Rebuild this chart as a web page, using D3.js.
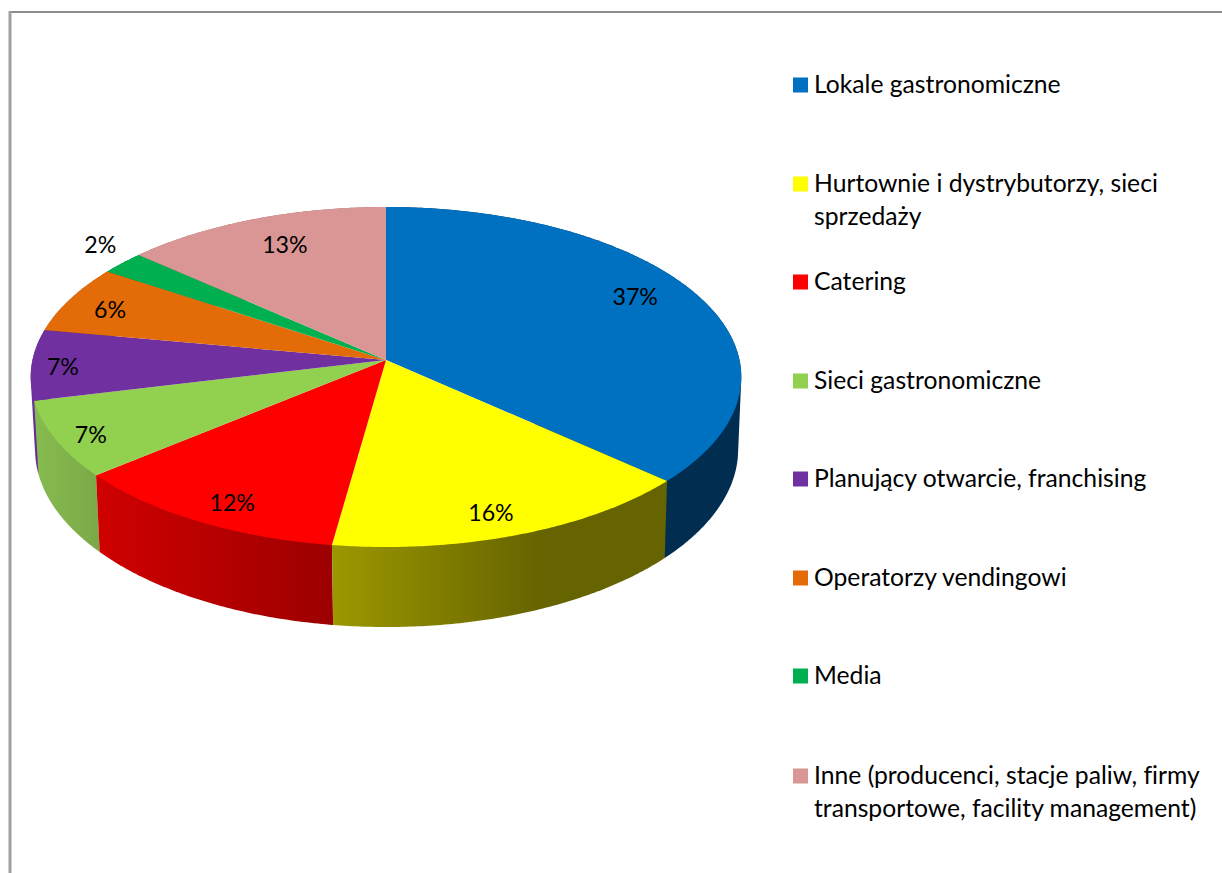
<!DOCTYPE html>
<html><head><meta charset="utf-8">
<script src="https://cdn.jsdelivr.net/npm/d3@7"></script>
<style>html,body{margin:0;padding:0;background:#fff}svg{display:block}text{font-family:Lato,"Open Sans",sans-serif;fill:#000;font-variant-ligatures:none}</style>
</head><body><svg id="c" width="1222" height="873"></svg>
<script>
const categories = ["Lokale gastronomiczne","Hurtownie i dystrybutorzy, sieci sprzedaży","Catering","Sieci gastronomiczne","Planujący otwarcie, franchising","Operatorzy vendingowi","Media","Inne (producenci, stacje paliw, firmy transportowe, facility management)"];
const legendLines = [["Lokale gastronomiczne"],["Hurtownie i dystrybutorzy, sieci","sprzedaży"],["Catering"],["Sieci gastronomiczne"],["Planujący otwarcie, franchising"],["Operatorzy vendingowi"],["Media"],["Inne (producenci, stacje paliw, firmy","transportowe, facility management)"]];
const values = [36.7,15.5,11.73,7.27,6.7,6.45,2.25,13.4];
const topColors = ["#0070C0","#FFFF00","#FF0000","#92D050","#7030A0","#E36C09","#00B050","#D99694"];
const sideStart = ["#002D50","#9C9800","#D00000","#86BC50","#6A2E98","#A04C06","#007A3A","#A06C6A"];
const sideEnd   = ["#002D50","#666400","#9C0000","#7CA848","#6A2E98","#A04C06","#007A3A","#A06C6A"];
// label placement relative to each slice: [angle nudge in degrees, radius fraction]
const labelNudge = [[-4,.829],[1.9,.877],[-1.93,.88],[-1.33,.906],[-1,.911],[-1.2,.861],[2.5,1.136],[1.4,.795]];
const legendRowY = [85,184,282,381,479,578,676,776];

const cx=386, cy=360, a=168.3, b=353.5, k=0.1;
const labelFont=23.2, legendFont=24.7;
const svg=d3.select("#c");
const defs=svg.append("defs");

// chart frame
const frame=svg.append("g").attr("fill","none").attr("stroke","#8c8c8c");
frame.append("line").attr("x1",9).attr("x2",1222).attr("y1",12).attr("y2",12).attr("stroke-width",2);
frame.append("line").attr("x1",10).attr("x2",10).attr("y1",11).attr("y2",873).attr("stroke-width",3).attr("stroke","#a0a0a0");

function topPt(th,r=1){const U=r*Math.sin(th),V=r*Math.cos(th),d=1+k*V;return [cx+b*U/d,cy-a*V/d];}
function bottomPt(th){const p=topPt(th);return [cx+(p[0]-cx)*0.9895+0.6,cy+(p[1]-cy)*1.045+71.6];}

const pie=d3.pie().sort(null).value(d=>d);
const arcs=pie(values);
const line=d3.line();
function samples(s,e){const n=Math.max(2,Math.ceil((e-s)/0.01));return d3.range(n+1).map(i=>s+(e-s)*i/n);}

// side faces: drawn back to front, each as the convex hull of its two rims
const order=arcs.map((d,i)=>({d,i})).sort((p,q)=>Math.cos((q.d.startAngle+q.d.endAngle)/2)-Math.cos((p.d.startAngle+p.d.endAngle)/2));
const gSide=svg.append("g");
order.forEach(({d,i})=>{
  const th=samples(d.startAngle,d.endAngle);
  const pts=d3.polygonHull(th.map(t=>topPt(t)).concat(th.map(t=>bottomPt(t))));
  const xs=pts.map(p=>p[0]);
  const id="side"+i;
  const g=defs.append("linearGradient").attr("id",id).attr("gradientUnits","userSpaceOnUse")
    .attr("x1",d3.min(xs)).attr("x2",d3.max(xs)).attr("y1",0).attr("y2",0);
  g.append("stop").attr("offset",0).attr("stop-color",sideStart[i]);
  if(i===1) g.append("stop").attr("offset",.62).attr("stop-color",sideEnd[i]);
  g.append("stop").attr("offset",1).attr("stop-color",sideEnd[i]);
  gSide.append("path").attr("d",line(pts)+"Z").attr("fill",`url(#${id})`);
});

// top surface
svg.append("g").selectAll("path").data(arcs).join("path")
  .attr("d",d=>line([[cx,cy]].concat(samples(d.startAngle,d.endAngle).map(t=>topPt(t))))+"Z")
  .attr("fill",(d,i)=>topColors[i]);

// percentage labels
svg.append("g").selectAll("text").data(arcs).join("text")
  .attr("font-size",labelFont).attr("text-anchor","middle").attr("dy","0.33em")
  .each(function(d,i){
    const mid=(d.startAngle+d.endAngle)/2+labelNudge[i][0]*Math.PI/180;
    const p=topPt(mid,labelNudge[i][1]);
    d3.select(this).attr("x",p[0]).attr("y",p[1]);
  })
  .text(d=>Math.round(d.value)+"%");

// legend
const leg=svg.append("g").selectAll("g").data(categories).join("g")
  .attr("transform",(d,i)=>`translate(793,${legendRowY[i]})`);
leg.append("rect").attr("x",0).attr("y",-7.5).attr("width",15).attr("height",15).attr("fill",(d,i)=>topColors[i]);
leg.each(function(d,i){
  d3.select(this).selectAll("text").data(legendLines[i]).join("text")
    .attr("x",21).attr("y",(l,j)=>j*33).attr("dy","0.31em").attr("font-size",legendFont).text(l=>l);
});
</script></body></html>
